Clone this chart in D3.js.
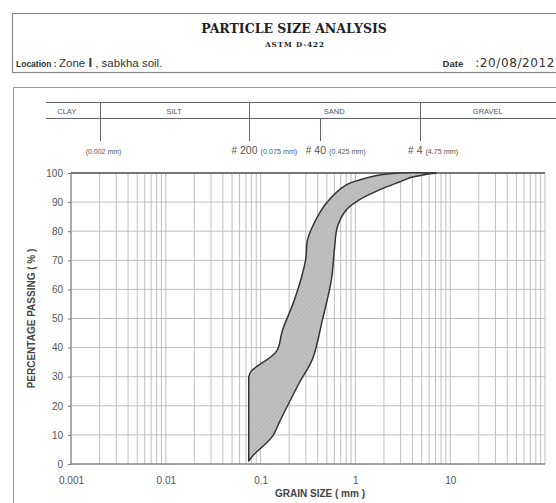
<!DOCTYPE html>
<html>
<head>
<meta charset="utf-8">
<script src="https://cdn.jsdelivr.net/npm/d3@7"></script>
<style>
  body { margin: 0; background: #fff; }
  svg { display: block; font-family: "Liberation Sans", Arial, sans-serif; }
</style>
</head>
<body>
<div id="chart"></div>
<script>
/** Grain size envelope (mm, % passing) */
const fineSize = [0.075, 0.08, 0.147, 0.17, 0.228, 0.298, 0.312, 0.37, 0.495, 0.80, 1.10, 1.79, 2.9, 7.1];
const finePass = [30, 32, 38.7, 46, 56.5, 70, 77, 83, 89.7, 95.9, 97.6, 99.3, 100, 100];
const coarseSize = [0.075, 0.082, 0.134, 0.158, 0.257, 0.352, 0.45, 0.559, 0.60, 0.646, 0.80, 1.10, 1.79, 2.9, 4.0, 7.1];
const coarsePass = [1, 2.7, 9.6, 14.4, 28, 36, 49.7, 63.4, 73.6, 81.5, 87.3, 90.8, 94.2, 96.9, 98.6, 100];

const yTicks = [0, 10, 20, 30, 40, 50, 60, 70, 80, 90, 100];
const xTicks = [0.001, 0.01, 0.1, 1, 10];
const xTickLabels = ["0.001", "0.01", "0.1", "1", "10"];

// soil classes and sieve limits (top band)
const classNames = ["CLAY", "SILT", "SAND", "GRAVEL"];
const classLimits = [0.002, 0.075, 4.75];
const sieveSizes = [0.002, 0.075, 0.425, 4.75];
const sieveNumbers = ["", "200", "40", "4"];
const sieveMm = ["(0.002 mm)", "(0.075 mm)", "(0.425 mm)", "(4.75 mm)"];

const width = 556, height = 503;
const plot = { left: 71, right: 545, top: 173, bottom: 464 };

const svg = d3.select("#chart").append("svg")
  .attr("width", width)
  .attr("height", height);

const x = d3.scaleLog().domain([0.001, 100]).range([plot.left, plot.right]);
const y = d3.scaleLinear().domain([0, 100]).range([plot.bottom, plot.top]);

/** Header box */
svg.append("rect")
  .attr("x", 12.5).attr("y", 13.5)
  .attr("width", 600).attr("height", 59)
  .attr("fill", "none").attr("stroke", "#888").attr("stroke-width", 1.2);

svg.append("text")
  .attr("x", 294).attr("y", 33)
  .attr("text-anchor", "middle")
  .style("font-family", "'DejaVu Serif', serif")
  .style("font-weight", "bold")
  .style("font-size", "12.5px")
  .attr("fill", "#222")
  .text("PARTICLE SIZE ANALYSIS");

svg.append("text")
  .attr("x", 295).attr("y", 47)
  .attr("text-anchor", "middle")
  .style("font-family", "'DejaVu Serif', serif")
  .style("font-weight", "bold")
  .style("font-size", "7px")
  .style("letter-spacing", "1px")
  .attr("fill", "#222")
  .text("ASTM D-422");

const loc = svg.append("text").attr("x", 16).attr("y", 67).attr("fill", "#333");
loc.append("tspan").style("font-weight", "bold").style("font-size", "8.5px").text("Location : ");
loc.append("tspan").style("font-size", "11.5px").text("Zone ");
loc.append("tspan").style("font-size", "13px").style("font-weight", "bold").text("I");
loc.append("tspan").style("font-size", "11.5px").text(" , sabkha soil.");

const dt = svg.append("text").attr("x", 555).attr("y", 67)
  .attr("text-anchor", "end").attr("fill", "#333").attr("xml:space", "preserve");
dt.append("tspan").style("font-weight", "bold").style("font-size", "9.5px").text("Date");
dt.append("tspan").style("font-family", "'DejaVu Sans', sans-serif")
  .attr("dx", 12)
  .style("font-size", "12px").style("letter-spacing", "0.6px").text(":20/08/2012");

/** Chart box */
svg.append("rect")
  .attr("x", 13.5).attr("y", 87.5)
  .attr("width", 600).attr("height", 450)
  .attr("fill", "none").attr("stroke", "#999").attr("stroke-width", 1);

/** Classification band */
const band = svg.append("g").attr("id", "band").attr("stroke", "#666").attr("stroke-width", 1);
const bandTop = 102.5, bandMid = 118.5;
band.append("line").attr("x1", 46).attr("x2", width).attr("y1", bandTop).attr("y2", bandTop);
band.append("line").attr("x1", 46).attr("x2", width).attr("y1", bandMid).attr("y2", bandMid);

band.selectAll("line.divider")
  .data(sieveSizes)
  .enter()
  .append("line")
  .attr("class", "divider")
  .attr("x1", d => Math.round(x(d)) + 0.5)
  .attr("x2", d => Math.round(x(d)) + 0.5)
  .attr("y1", d => classLimits.includes(d) ? bandTop : bandMid)
  .attr("y2", 141);

const bandEdges = [46, ...classLimits.map(d => x(d)), width];
svg.selectAll("text.soil")
  .data(classNames)
  .enter()
  .append("text")
  .attr("class", "soil")
  .attr("x", (d, i) => (bandEdges[i] + bandEdges[i + 1]) / 2 - (i === 0 ? 6 : 0))
  .attr("y", 113.5)
  .attr("text-anchor", "middle")
  .style("font-size", "7.5px")
  .attr("fill", "#555")
  .text(d => d);

// sieve labels under the band
sieveSizes.forEach((s, i) => {
  const cx = x(s);
  const g = svg.append("g").attr("fill", "#555");
  if (!sieveNumbers[i]) {
    g.append("text").attr("x", cx + 4).attr("y", 154)
      .attr("text-anchor", "middle").style("font-size", "7px").text(sieveMm[i]);
    return;
  }
  const num = g.append("text").attr("x", cx).attr("y", 154)
    .attr("text-anchor", "middle").style("font-size", "10.5px").text(sieveNumbers[i]);
  const w = num.node().getComputedTextLength();
  g.append("text").attr("x", cx - w / 2 - 3).attr("y", 154)
    .attr("text-anchor", "end").style("font-size", "10px").text("#");
  g.append("text").attr("x", cx + w / 2 + 3).attr("y", 154)
    .style("font-size", "7.2px").text(sieveMm[i]);
});

/** Grid */
const minor = [];
for (let e = -3; e <= 1; e++) {
  for (let m = 1; m <= 9; m++) minor.push(m * Math.pow(10, e));
}
minor.push(100);

const grid = svg.append("g").attr("id", "grid");
grid.selectAll("line.v")
  .data(minor)
  .enter()
  .append("line")
  .attr("class", "v")
  .attr("x1", d => x(d)).attr("x2", d => x(d))
  .attr("y1", plot.top).attr("y2", plot.bottom)
  .attr("stroke", "#b8b8b8").attr("stroke-width", 0.9);

grid.selectAll("line.h")
  .data(yTicks)
  .enter()
  .append("line")
  .attr("class", "h")
  .attr("x1", plot.left).attr("x2", plot.right)
  .attr("y1", d => y(d)).attr("y2", d => y(d))
  .attr("stroke", "#b8b8b8").attr("stroke-width", 0.9);

// frame
grid.append("line").attr("x1", plot.left).attr("x2", plot.right)
  .attr("y1", plot.top).attr("y2", plot.top).attr("stroke", "#555").attr("stroke-width", 1.3);
grid.append("line").attr("x1", plot.left).attr("x2", plot.right)
  .attr("y1", plot.bottom).attr("y2", plot.bottom).attr("stroke", "#666").attr("stroke-width", 1.2);
grid.append("line").attr("x1", plot.left).attr("x2", plot.left)
  .attr("y1", plot.top).attr("y2", plot.bottom).attr("stroke", "#777").attr("stroke-width", 1);

/** Envelope */
const defs = svg.append("defs");
const pat = defs.append("pattern")
  .attr("id", "hatch")
  .attr("patternUnits", "userSpaceOnUse")
  .attr("width", 3).attr("height", 3)
  .attr("patternTransform", "rotate(45)");
pat.append("rect").attr("width", 3).attr("height", 3).attr("fill", "#c0c0c0");
pat.append("line").attr("x1", 0).attr("y1", 0).attr("x2", 0).attr("y2", 3)
  .attr("stroke", "#adadad").attr("stroke-width", 1);

const finePts = fineSize.map((d, i) => [x(d), y(finePass[i])]);
const coarsePts = coarseSize.map((d, i) => [x(d), y(coarsePass[i])]).reverse();
const curve = d3.line().curve(d3.curveCatmullRom.alpha(0.5));
const envelope = curve(finePts) + curve(coarsePts).replace(/^M/, "L") + "Z";

svg.append("path")
  .attr("d", envelope)
  .attr("fill", "url(#hatch)")
  .attr("stroke", "#333")
  .attr("stroke-width", 1.5)
  .attr("stroke-linejoin", "round");

/** Axes labels */
const yAxis = d3.axisLeft(y).tickValues(yTicks).tickSize(3).tickPadding(5);
svg.append("g")
  .attr("transform", "translate(" + plot.left + ",0)")
  .call(yAxis)
  .call(g => g.select(".domain").remove())
  .call(g => g.selectAll("line").attr("stroke", "#777"))
  .call(g => g.selectAll("text").attr("fill", "#555")
    .style("font-size", "10px").style("font-family", "'Liberation Sans', Arial, sans-serif"));

const xAxis = d3.axisBottom(x).tickValues(xTicks)
  .tickFormat((d, i) => xTickLabels[i]).tickSize(0).tickPadding(13);
svg.append("g")
  .attr("transform", "translate(0," + plot.bottom + ")")
  .call(xAxis)
  .call(g => g.select(".domain").remove())
  .call(g => g.selectAll("text").attr("fill", "#555")
    .style("font-size", "10px").style("font-family", "'Liberation Sans', Arial, sans-serif"));

svg.append("text")
  .attr("transform", "translate(35," + ((plot.top + plot.bottom) / 2) + ") rotate(-90)")
  .attr("text-anchor", "middle")
  .style("font-size", "10px")
  .style("font-weight", "bold")
  .attr("fill", "#444")
  .text("PERCENTAGE PASSING ( % )");

svg.append("text")
  .attr("x", 320).attr("y", 497)
  .attr("text-anchor", "middle")
  .style("font-size", "10px")
  .style("font-weight", "bold")
  .attr("fill", "#444")
  .text("GRAIN SIZE ( mm )");
</script>
</body>
</html>
